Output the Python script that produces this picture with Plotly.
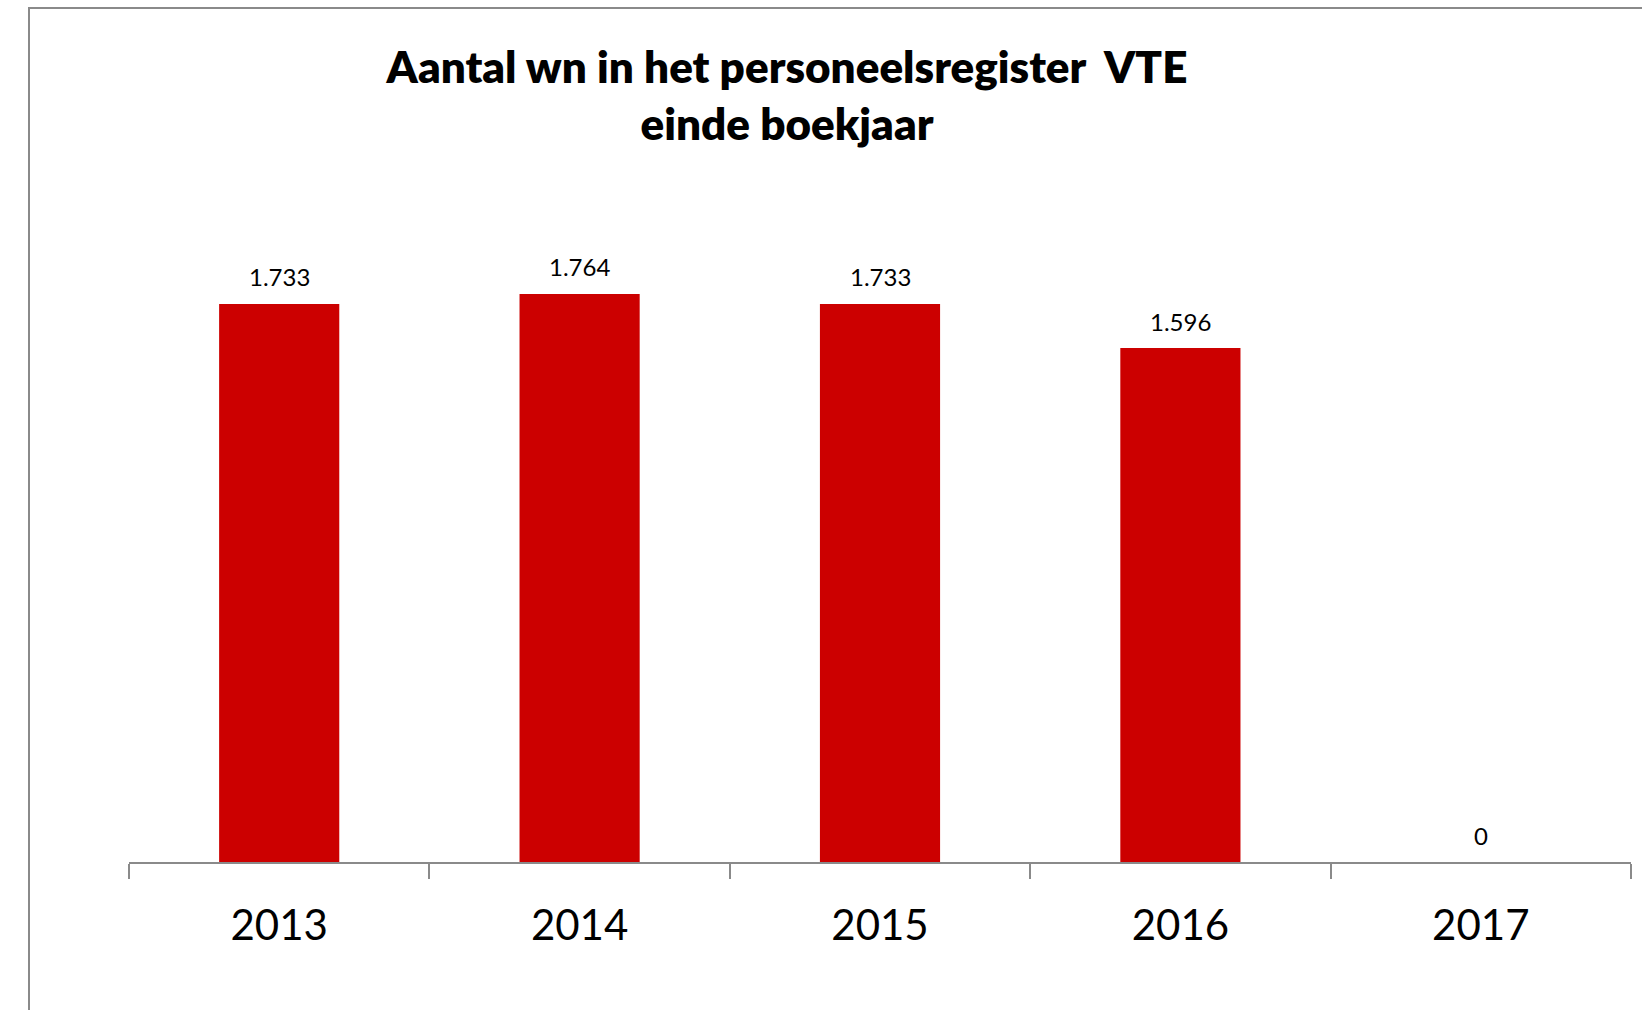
import plotly.graph_objects as go

# Aantal werknemers (VTE) in het personeelsregister, einde boekjaar
years = ["2013", "2014", "2015", "2016", "2017"]
vte = [1733, 1764, 1733, 1596, 0]

title_text = "Aantal wn in het personeelsregister  VTE<br>einde boekjaar"

W, H = 1642, 1010
M_L, M_R, M_T, M_B = 129, 11, 218, 148
plot_w = W - M_L - M_R
plot_h = H - M_T - M_B

BAR_RED = "#cc0000"
AXIS_GREY = "#8a8a8a"
FONT = "Lato, 'Open Sans', sans-serif"

fig = go.Figure()
fig.add_trace(go.Bar(
    x=years,
    y=vte,
    width=0.4,
    marker=dict(color=BAR_RED, line=dict(width=0)),
    hoverinfo="skip",
))

# value labels above each bar, formatted with Dutch thousands separator
# (category axes take the category index for annotation positions)
for idx, v in enumerate(vte):
    fig.add_annotation(
        x=idx, y=v, xref="x", yref="y",
        text=f"{v:,}".replace(",", "."),
        showarrow=False,
        xanchor="center", yanchor="middle", yshift=27,
        font=dict(family=FONT, size=24, color="#000000"),
    )

# outer chart border (runs off the right and bottom edges)
def px_to_paper_x(px):
    return (px - M_L) / plot_w

def px_to_paper_y(py):
    return (H - M_B - py) / plot_h

fig.add_shape(
    type="rect", xref="paper", yref="paper",
    x0=px_to_paper_x(29), x1=px_to_paper_x(W + 20),
    y0=px_to_paper_y(H + 20), y1=px_to_paper_y(8),
    line=dict(color=AXIS_GREY, width=2),
    fillcolor="rgba(0,0,0,0)",
    layer="below",
)

fig.update_layout(
    width=W, height=H,
    margin=dict(l=M_L, r=M_R, t=M_T, b=M_B, pad=0),
    paper_bgcolor="white",
    plot_bgcolor="white",
    showlegend=False,
    separators=",.",
    title=dict(
        text=title_text,
        xref="container", yref="container",
        x=787 / W, xanchor="center",
        y=1 - 83 / H, yanchor="middle",
        font=dict(family=FONT, size=44, color="#000000", weight=800),
    ),
    xaxis=dict(
        type="category",
        range=[-0.5, 4.5],
        showline=True, linecolor=AXIS_GREY, linewidth=1.5,
        ticks="outside", tickson="boundaries",
        ticklen=15, tickcolor=AXIS_GREY, tickwidth=1.5,
        showgrid=False, zeroline=False,
        tickfont=dict(family=FONT, size=42, color="#000000"),
        ticklabelstandoff=26,
    ),
    yaxis=dict(
        range=[0, 2000],
        showticklabels=False, showline=False, ticks="",
        showgrid=False, zeroline=False,
    ),
)

fig.write_html("out.html")
